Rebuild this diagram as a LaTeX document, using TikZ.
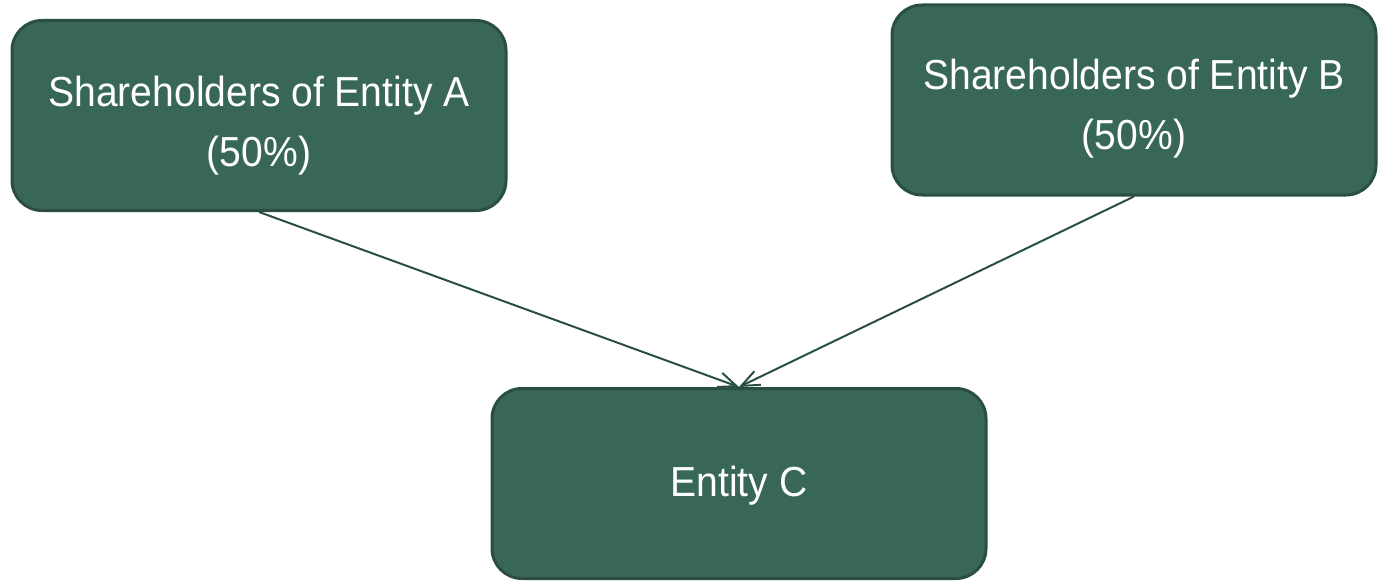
\documentclass[tikz,border=0pt]{standalone}
\usepackage{fontspec}
\setmainfont[FakeStretch=0.93]{Liberation Sans}
\usetikzlibrary{arrows.meta, positioning}

\definecolor{boxgreen}{HTML}{386658}
\definecolor{edgegreen}{HTML}{2A4F42}

\pgfdeclarelayer{background}
\pgfsetlayers{background,main}

\begin{document}
\begin{tikzpicture}[x=0.5pt, y=-0.5pt,
        entity/.style={draw=edgegreen, fill=boxgreen, line width=1.5pt, rounded corners=15pt,
                       text=white, align=center, font=\fontsize{21}{30}\selectfont,
                       minimum width=247pt, minimum height=95pt, inner sep=0pt},
        owns/.style={draw=edgegreen, line width=1pt, -{Straight Barb[length=9pt, width=7.5pt]}}]

        % fixing the page to the size of the reference
        \useasboundingbox (0,0) rectangle (1380,583);

        % the shareholder boxes (the rule pushes the text down a little)
        \node[entity] (A) at (259,115.5) {\rule{0pt}{25pt}Shareholders of Entity A\\(50\%)};
        \node[entity, minimum width=242pt] (B) at (1134,100) {\rule{0pt}{24pt}Shareholders of Entity B\\(50\%)};

        % the joint entity
        \node[entity] (C) at (739,483.5) {\rule{0pt}{17pt}Entity C};

        % ownership lines, kept under the boxes
        \begin{pgfonlayer}{background}
            \draw[owns] (A.south) -- (C.north);
            \draw[owns] (B.south) -- (C.north);
        \end{pgfonlayer}

\end{tikzpicture}
\end{document}
